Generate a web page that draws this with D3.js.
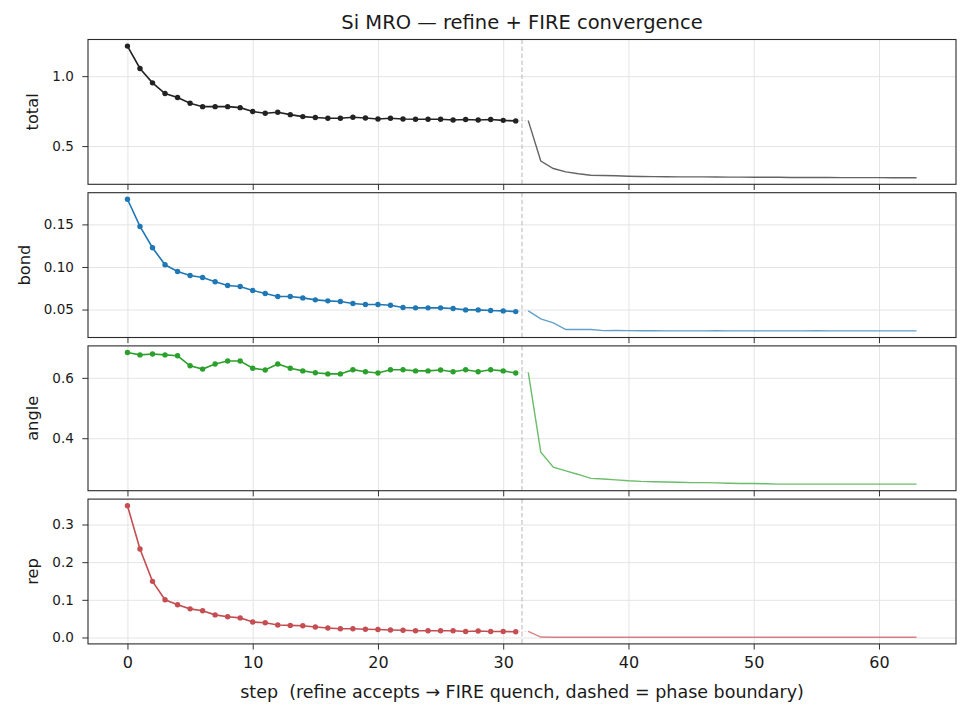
<!DOCTYPE html>
<html>
<head>
<meta charset="utf-8">
<script src="https://cdn.jsdelivr.net/npm/d3@7"></script>
<style>
  body { margin: 0; background: white; }
  text { font-family: 'DejaVu Sans', sans-serif; fill: #1a1a1a; }
  .grid line { stroke: #e4e4e4; stroke-width: 1; }
  .grid path { display: none; }
  .axis path, .axis line { stroke: #333; }
</style>
</head>
<body>
<div id="chart"></div>
<script>
// refine phase: steps 0..31 (markers), FIRE quench: steps 32..63 (plain line)
const refineStart = 0;
const fireStart = 32;
const boundaryStep = 31.5;

const totalRefine = [1.215, 1.055, 0.952, 0.876, 0.847, 0.806, 0.782, 0.782, 0.782, 0.775,
  0.747, 0.735, 0.742, 0.725, 0.711, 0.704, 0.699, 0.699, 0.706, 0.701,
  0.694, 0.699, 0.694, 0.692, 0.692, 0.692, 0.687, 0.690, 0.687, 0.690, 0.684, 0.680];
const totalFire = [0.682, 0.393, 0.340, 0.316, 0.302, 0.292, 0.290, 0.288, 0.285, 0.283,
  0.282, 0.281, 0.280, 0.280, 0.280, 0.279, 0.278, 0.278, 0.277, 0.277,
  0.277, 0.276, 0.276, 0.276, 0.276, 0.275, 0.275, 0.275, 0.275, 0.274, 0.274, 0.274];

const bondRefine = [0.1795, 0.1476, 0.1226, 0.1026, 0.0947, 0.0900, 0.0876, 0.0826, 0.0782, 0.0771,
  0.0724, 0.0688, 0.0653, 0.0653, 0.0637, 0.0614, 0.0602, 0.0594, 0.0571, 0.0559,
  0.0559, 0.0551, 0.0524, 0.0520, 0.0520, 0.0520, 0.0512, 0.0496, 0.0496, 0.0488, 0.0484, 0.0476];
const bondFire = [0.0484, 0.0391, 0.0343, 0.0265, 0.0265, 0.0266, 0.0253, 0.0254, 0.0253, 0.0251,
  0.0251, 0.0250, 0.0250, 0.0250, 0.0249, 0.0251, 0.0250, 0.0250, 0.0250, 0.0250,
  0.0250, 0.0250, 0.0250, 0.0251, 0.0250, 0.0250, 0.0250, 0.0250, 0.0249, 0.0249, 0.0249, 0.0249];

const angleRefine = [0.684, 0.676, 0.679, 0.676, 0.673, 0.640, 0.629, 0.646, 0.656, 0.656,
  0.632, 0.626, 0.646, 0.632, 0.623, 0.617, 0.613, 0.613, 0.627, 0.620,
  0.616, 0.627, 0.627, 0.623, 0.623, 0.626, 0.620, 0.627, 0.620, 0.627, 0.623, 0.616];
const angleFire = [0.618, 0.354, 0.304, 0.292, 0.280, 0.267, 0.265, 0.262, 0.259, 0.257,
  0.256, 0.255, 0.254, 0.253, 0.253, 0.252, 0.251, 0.250, 0.250, 0.249,
  0.248, 0.248, 0.248, 0.248, 0.248, 0.248, 0.248, 0.248, 0.248, 0.248, 0.248, 0.248];

const repRefine = [0.350, 0.235, 0.149, 0.100, 0.087, 0.076, 0.071, 0.060, 0.055, 0.052,
  0.041, 0.039, 0.033, 0.032, 0.031, 0.028, 0.025, 0.023, 0.023, 0.022,
  0.021, 0.020, 0.019, 0.018, 0.018, 0.018, 0.018, 0.016, 0.017, 0.016, 0.016, 0.015];
const repFire = [0.016, 0.0012, 0.0006, 0.0005, 0.0005, 0.0005, 0.0004, 0.0004, 0.0004, 0.0004,
  0.0004, 0.0004, 0.0004, 0.0004, 0.0004, 0.0004, 0.0004, 0.0004, 0.0004, 0.0004,
  0.0004, 0.0004, 0.0004, 0.0004, 0.0004, 0.0004, 0.0004, 0.0004, 0.0004, 0.0004, 0.0004, 0.0004];

const panelNames = ['total', 'bond', 'angle', 'rep'];
const panelColors = ['#222222', '#1f77b4', '#2ca02c', '#c44e52'];
const yTickValues = [[0.5, 1.0], [0.05, 0.10, 0.15], [0.4, 0.6], [0.0, 0.1, 0.2, 0.3]];
const yTickLabels = [['0.5', '1.0'], ['0.05', '0.10', '0.15'], ['0.4', '0.6'], ['0.0', '0.1', '0.2', '0.3']];
const xTickValues = [0, 10, 20, 30, 40, 50, 60];

const titleText = 'Si MRO — refine + FIRE convergence';
const xLabel = 'step  (refine accepts → FIRE quench, dashed = phase boundary)';

const refineData = [totalRefine, bondRefine, angleRefine, repRefine];
const fireData = [totalFire, bondFire, angleFire, repFire];

const W = 969, H = 716;
const plotLeft = 88, plotRight = 956, plotTop = 39.5;
const panelH = 144.8, gap = 8.4;

const svg = d3.select('#chart').append('svg')
    .attr('width', W)
    .attr('height', H)
    .style('background', 'white');

// x spans steps 0..63 plus matplotlib's 5% padding
const lastStep = fireStart + totalFire.length - 1;
const xPad = (lastStep - refineStart) * 0.05;
const xScale = d3.scaleLinear()
    .domain([refineStart - xPad, lastStep + xPad])
    .range([plotLeft, plotRight]);

svg.append('text')
    .attr('x', (plotLeft + plotRight) / 2)
    .attr('y', 28.5)
    .attr('text-anchor', 'middle')
    .style('font-size', '19.5px')
    .text(titleText);

panelNames.forEach((name, p) => {
  const y0 = plotTop + p * (panelH + gap);
  const color = panelColors[p];
  const ref = refineData[p].map((v, i) => ({ step: refineStart + i, v: v }));
  const fire = fireData[p].map((v, i) => ({ step: fireStart + i, v: v }));
  const all = ref.concat(fire);
  const yMin = d3.min(all, d => d.v);
  const yMax = d3.max(all, d => d.v);
  const yPad = (yMax - yMin) * 0.05;
  const yScale = d3.scaleLinear()
      .domain([yMin - yPad, yMax + yPad])
      .range([y0 + panelH, y0]);

  const g = svg.append('g');

  // grid
  g.append('g')
      .attr('class', 'grid')
      .attr('transform', 'translate(0,' + (y0 + panelH) + ')')
      .call(d3.axisBottom(xScale).tickValues(xTickValues).tickSize(-panelH).tickFormat(''));
  g.append('g')
      .attr('class', 'grid')
      .attr('transform', 'translate(' + plotLeft + ',0)')
      .call(d3.axisLeft(yScale).tickValues(yTickValues[p]).tickSize(-(plotRight - plotLeft)).tickFormat(''));

  // phase boundary
  g.append('line')
      .attr('x1', xScale(boundaryStep))
      .attr('x2', xScale(boundaryStep))
      .attr('y1', y0)
      .attr('y2', y0 + panelH)
      .attr('stroke', '#bdbdbd')
      .attr('stroke-width', 1.1)
      .attr('stroke-dasharray', '4.5,2.5');

  const line = d3.line()
      .x(d => xScale(d.step))
      .y(d => yScale(d.v));

  // thin dotted bridge between the phases
  g.append('path')
      .attr('d', line([ref[ref.length - 1], fire[0]]))
      .attr('fill', 'none')
      .attr('stroke', color)
      .attr('stroke-opacity', 0.4)
      .attr('stroke-width', 0.8)
      .attr('stroke-dasharray', '1,2');

  g.append('path')
      .attr('d', line(fire))
      .attr('fill', 'none')
      .attr('stroke', color)
      .attr('stroke-opacity', 0.7)
      .attr('stroke-width', 1.4);

  g.append('path')
      .attr('d', line(ref))
      .attr('fill', 'none')
      .attr('stroke', color)
      .attr('stroke-width', 1.6);

  g.selectAll('circle')
      .data(ref)
      .enter()
      .append('circle')
      .attr('cx', d => xScale(d.step))
      .attr('cy', d => yScale(d.v))
      .attr('r', 2.7)
      .attr('fill', color);

  // axes
  const yAxis = g.append('g')
      .attr('class', 'axis')
      .attr('transform', 'translate(' + plotLeft + ',0)')
      .call(d3.axisLeft(yScale)
          .tickValues(yTickValues[p])
          .tickSize(5.7)
          .tickPadding(8.5)
          .tickFormat((d, i) => yTickLabels[p][i]));
  yAxis.select('.domain').remove();
  yAxis.selectAll('text').style('font-size', '13.5px');

  const xAxis = g.append('g')
      .attr('class', 'axis')
      .attr('transform', 'translate(0,' + (y0 + panelH) + ')')
      .call(d3.axisBottom(xScale)
          .tickValues(xTickValues)
          .tickSize(5.7)
          .tickPadding(7.5)
          .tickFormat(p === panelNames.length - 1 ? d3.format('d') : ''));
  xAxis.select('.domain').remove();
  xAxis.selectAll('text').style('font-size', '16px');

  g.append('rect')
      .attr('x', plotLeft)
      .attr('y', y0)
      .attr('width', plotRight - plotLeft)
      .attr('height', panelH)
      .attr('fill', 'none')
      .attr('stroke', '#2a2a2a')
      .attr('stroke-width', 1.1);

  // y label sits left of the widest tick label
  const tickLeft = d3.min(yAxis.selectAll('text').nodes(), n => {
    const b = n.getBBox();
    return plotLeft - 5.7 - 8.5 - b.width;
  });
  g.append('text')
      .attr('transform', 'translate(' + (tickLeft - 14) + ',' + (y0 + panelH / 2) + ') rotate(-90)')
      .attr('text-anchor', 'middle')
      .style('font-size', '16.25px')
      .text(name);
});

svg.append('text')
    .attr('x', (plotLeft + plotRight) / 2)
    .attr('y', 698)
    .attr('text-anchor', 'middle')
    .style('font-size', '17.5px')
    .style('white-space', 'pre')
    .text(xLabel);
</script>
</body>
</html>
